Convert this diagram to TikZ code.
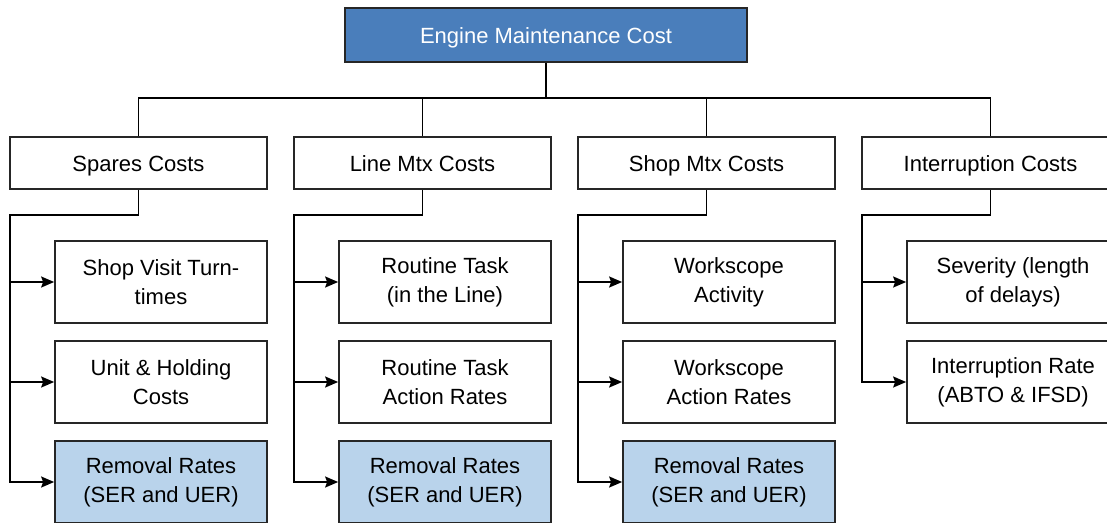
\documentclass[tikz,border=0pt]{standalone}
\usepackage{fontspec}
\setmainfont{Liberation Sans}
\usetikzlibrary{arrows.meta}
\definecolor{rootblue}{RGB}{74,126,187}
\definecolor{lightblue}{RGB}{185,211,235}
\tikzset{
  base/.style={draw=black!85, line width=1.7pt, inner sep=0pt, align=center, font=\fontsize{22}{29}\selectfont},
  rootbox/.style={base, fill=rootblue, text=white, minimum width=402pt, minimum height=54pt, text height=20pt, text depth=3pt},
  catbox/.style={base, fill=white, minimum width=257pt, minimum height=52pt, text height=19pt, text depth=3pt},
  childbox/.style={base, fill=white, minimum width=212pt, minimum height=82pt},
  hlbox/.style={childbox, fill=lightblue},
  conn/.style={draw=black, line width=1.7pt},
  arr/.style={conn, -{Stealth[length=13pt,width=11pt,inset=2pt]}}
}
\begin{document}
\begin{tikzpicture}[x=1pt,y=-1pt]
\useasboundingbox (0,0) rectangle (1107,522);
\fill[white] (0,0) rectangle (1107,522);

\node[rootbox] (root) at (546,35) {Engine Maintenance Cost};
\coordinate (bus) at (546,98);

\node[catbox] (c0) at (138.5,163) {Spares Costs};
\node[catbox] (c1) at (422.5,163) {Line Mtx Costs};
\node[catbox] (c2) at (706.5,163) {Shop Mtx Costs};
\node[catbox] (c3) at (990.5,163) {Interruption Costs};

\node[childbox] (a1) at (161,282) {Shop Visit Turn-\\times};
\node[childbox] (a2) at (161,382) {Unit \& Holding\\Costs};
\node[hlbox]    (a3) at (161,482) {Removal Rates\\(SER and UER)};

\node[childbox] (b1) at (445,282) {Routine Task\\(in the Line)};
\node[childbox] (b2) at (445,382) {Routine Task\\Action Rates};
\node[hlbox]    (b3) at (445,482) {Removal Rates\\(SER and UER)};

\node[childbox] (d1) at (729,282) {Workscope\\Activity};
\node[childbox] (d2) at (729,382) {Workscope\\Action Rates};
\node[hlbox]    (d3) at (729,482) {Removal Rates\\(SER and UER)};

\node[childbox] (e1) at (1013,282) {Severity (length\\of delays)};
\node[childbox] (e2) at (1013,382) {Interruption Rate\\(ABTO \& IFSD)};

\coordinate (v0) at (10,215);
\coordinate (v1) at (294,215);
\coordinate (v2) at (578,215);
\coordinate (v3) at (862,215);

% top bus
\draw[conn] (root.south) -- (bus);
\draw[conn] (c0.north) -- (c0.north |- bus) -- (c3.north |- bus) -- (c3.north);
\draw[conn] (c1.north) -- (c1.north |- bus);
\draw[conn] (c2.north) -- (c2.north |- bus);

% column connectors
\draw[arr] (c0.south) |- (v0) |- (a3.west);
\draw[arr] (v0 |- a1.west) -- (a1.west);
\draw[arr] (v0 |- a2.west) -- (a2.west);

\draw[arr] (c1.south) |- (v1) |- (b3.west);
\draw[arr] (v1 |- b1.west) -- (b1.west);
\draw[arr] (v1 |- b2.west) -- (b2.west);

\draw[arr] (c2.south) |- (v2) |- (d3.west);
\draw[arr] (v2 |- d1.west) -- (d1.west);
\draw[arr] (v2 |- d2.west) -- (d2.west);

\draw[arr] (c3.south) |- (v3) |- (e2.west);
\draw[arr] (v3 |- e1.west) -- (e1.west);
\end{tikzpicture}
\end{document}
